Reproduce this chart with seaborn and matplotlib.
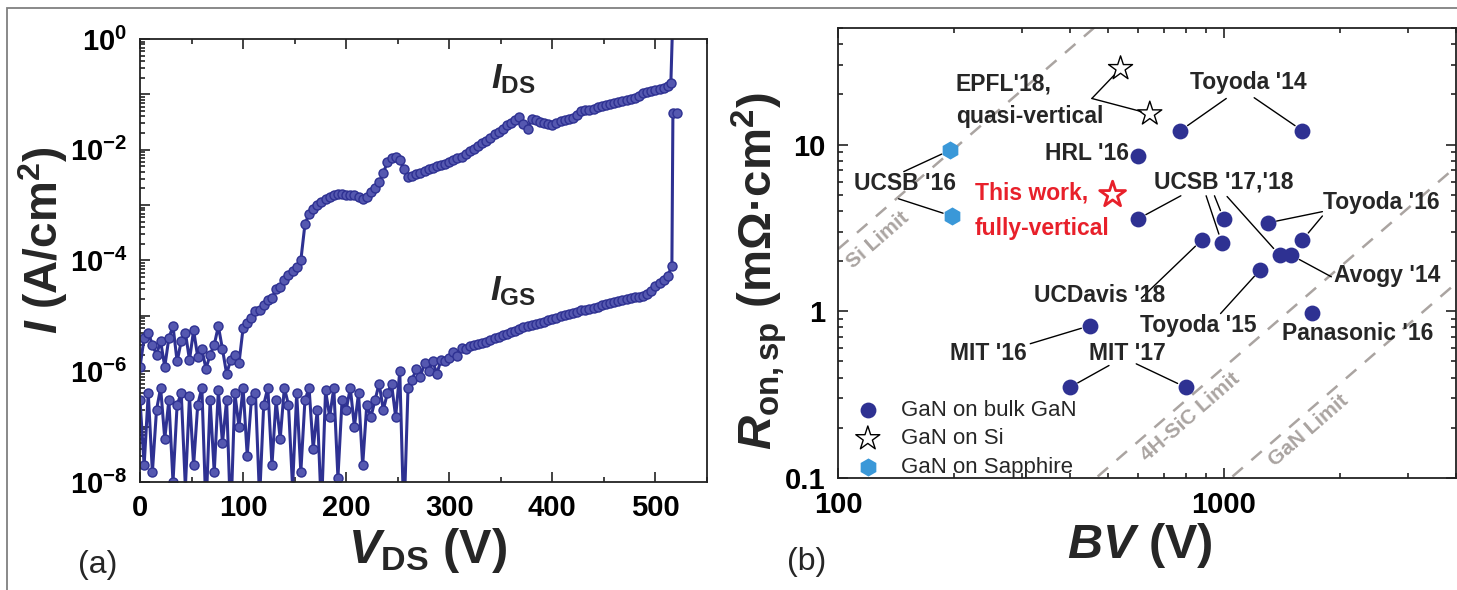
import numpy as np
import pandas as pd
import seaborn as sns
import matplotlib.pyplot as plt
from matplotlib.patches import Rectangle
from matplotlib.ticker import FixedLocator, LogLocator, FuncFormatter, NullFormatter, MultipleLocator

sns.set_theme(style="ticks")
plt.rcParams['font.family'] = ['Liberation Sans', 'DejaVu Sans']
plt.rcParams['mathtext.fontset'] = 'custom'
plt.rcParams['mathtext.rm'] = 'Liberation Sans:bold'
plt.rcParams['mathtext.it'] = 'Liberation Sans:italic:bold'
plt.rcParams['mathtext.bf'] = 'Liberation Sans:bold'

# ---- (a) off-state leakage, sweep in 4 V steps 0..512 V ----
v_sweep = np.arange(0, 513, 4)
i_ds = [1.2e-6, 4.0e-6, 5.0e-6, 3.0e-6, 2.0e-6, 3.5e-6, 1.2e-6, 4.0e-6, 6.5e-6, 1.5e-6,
        3.5e-6, 5.0e-6, 1.6e-6, 5.5e-6, 1.8e-6, 2.5e-6, 1.1e-6, 2.0e-6, 3.0e-6, 6.5e-6,
        2.5e-6, 9.0e-7, 1.6e-6, 2.0e-6, 1.4e-6, 6.0e-6, 7.5e-6, 9.0e-6, 1.2e-5, 1.3e-5,
        1.6e-5, 1.9e-5, 2.1e-5, 3.0e-5, 3.3e-5, 4.5e-5, 5.5e-5, 6.5e-5, 7.5e-5, 1.0e-4,
        4.5e-4, 7.0e-4, 8.5e-4, 1.0e-3, 1.15e-3, 1.3e-3, 1.4e-3, 1.5e-3, 1.6e-3, 1.6e-3,
        1.55e-3, 1.5e-3, 1.5e-3, 1.4e-3, 1.3e-3, 1.4e-3, 1.7e-3, 2.0e-3, 2.6e-3, 3.8e-3,
        6.0e-3, 7.0e-3, 7.5e-3, 6.5e-3, 4.5e-3, 3.2e-3, 3.4e-3, 3.6e-3, 3.8e-3, 4.2e-3,
        4.5e-3, 4.6e-3, 5.0e-3, 5.3e-3, 5.6e-3, 6.0e-3, 6.5e-3, 7.2e-3, 7.5e-3, 8.5e-3,
        9.5e-3, 1.05e-2, 1.15e-2, 1.3e-2, 1.45e-2, 1.6e-2, 1.9e-2, 2.1e-2, 2.4e-2, 2.8e-2,
        3.1e-2, 3.5e-2, 3.9e-2, 2.9e-2, 2.4e-2, 3.6e-2, 3.4e-2, 3.2e-2, 3.0e-2, 2.9e-2,
        2.8e-2, 3.0e-2, 3.3e-2, 3.5e-2, 3.6e-2, 3.8e-2, 4.3e-2, 5.0e-2, 5.2e-2, 5.3e-2,
        5.5e-2, 5.8e-2, 6.2e-2, 6.5e-2, 6.8e-2, 7.0e-2, 7.3e-2, 7.6e-2, 7.9e-2, 8.2e-2,
        8.5e-2, 9.5e-2, 1.05e-1, 1.1e-1, 1.15e-1, 1.2e-1, 1.25e-1, 1.3e-1, 1.4e-1]
i_gs = [3e-7, 2e-8, 4e-7, 1.5e-8, 2e-7, 5e-7, 6e-8, 3e-7, 1e-8, 2.5e-7,
        4e-7, 8e-9, 3.5e-7, 2e-8, 2.5e-7, 5e-7, 3e-9, 3e-7, 1.5e-8, 4.5e-7,
        5e-8, 3e-7, 2e-9, 4e-7, 1e-7, 5e-7, 3e-8, 3e-7, 4e-7, 5e-9,
        2.5e-7, 5e-7, 2e-8, 3e-7, 6e-8, 5e-7, 2.5e-7, 8e-9, 4e-7, 1.5e-8,
        3e-7, 5e-7, 4e-8, 2e-7, 3e-9, 4.5e-7, 1.5e-7, 5e-7, 1.2e-8, 3e-7,
        2e-7, 5e-7, 1e-7, 4e-7, 2e-8, 2.5e-7, 1.5e-7, 3e-7, 6e-7, 2e-7,
        4e-7, 6e-7, 1.5e-7, 1e-6, 2e-9, 5e-7, 7e-7, 1.1e-6, 8e-7, 1.4e-6,
        1.0e-6, 1.5e-6, 9e-7, 1.6e-6, 1.5e-6, 1.7e-6, 2.2e-6, 1.9e-6, 2.6e-6, 2.5e-6,
        2.9e-6, 3.0e-6, 3.1e-6, 3.3e-6, 3.4e-6, 3.6e-6, 3.9e-6, 4.2e-6, 4.5e-6, 4.8e-6,
        5.1e-6, 5.4e-6, 5.8e-6, 6.2e-6, 6.5e-6, 6.8e-6, 7.0e-6, 7.4e-6, 7.8e-6, 8.3e-6,
        8.8e-6, 9.3e-6, 9.8e-6, 1.03e-5, 1.08e-5, 1.13e-5, 1.18e-5, 1.25e-5, 1.3e-5, 1.35e-5,
        1.4e-5, 1.45e-5, 1.58e-5, 1.62e-5, 1.7e-5, 1.78e-5, 1.85e-5, 1.92e-5, 2.0e-5, 2.07e-5,
        2.15e-5, 2.22e-5, 2.3e-5, 2.5e-5, 2.8e-5, 3.4e-5, 3.9e-5, 4.5e-5, 5.3e-5]
# breakdown tails
v_ds_tail = [515, 517]
i_ds_tail = [0.16, 3.0]
v_gs_tail = [516, 517, 521]
i_gs_tail = [8e-5, 0.047, 0.047]

# ---- (b) benchmark Ron,sp vs BV ----
bv_bulk = [771, 1600, 599, 599, 1000, 878, 988, 1396, 1497, 1300, 1600, 1245, 1690, 450, 399, 797]
ron_bulk = [12.1, 12.1, 8.5, 3.58, 3.58, 2.68, 2.58, 2.17, 2.17, 3.39, 2.68, 1.78, 0.98, 0.82, 0.35, 0.35]
bv_si = [540, 643]
ron_si = [28.6, 15.3]
bv_sap = [195, 197]
ron_sap = [9.24, 3.73]
bv_this = [515]
ron_this = [5.0]

# material limits Ron = k * BV^2
limit_names = ["Si", "4H-SiC", "GaN"]
limit_k = [2.36e-4, 4.6e-7, 9.2e-8]
bv_range = [100, 4000]

navy = "#2e3192"
grey = "#aaa4a1"

fig = plt.figure(figsize=(14.57, 5.9), dpi=100)
ax1 = fig.add_axes([0.0961, 0.1831, 0.3891, 0.7508])
ax2 = fig.add_axes([0.5752, 0.1898, 0.4241, 0.7627])

# ---------------- panel (a) ----------------
ax1.set_yscale("log")
dfa = pd.DataFrame({"V": np.concatenate([v_sweep, v_ds_tail]), "I": i_ds + i_ds_tail})
dfb = pd.DataFrame({"V": np.concatenate([v_sweep, v_gs_tail]), "I": i_gs + i_gs_tail})
for d in (dfb, dfa):
    sns.lineplot(data=d, x="V", y="I", ax=ax1, color=navy, linewidth=2.2,
                 marker="o", markersize=6.5, markerfacecolor="#5558b0",
                 markeredgecolor=navy, markeredgewidth=1.0,
                 sort=False, estimator=None)
ax1.set_xlim(0, 550)
ax1.set_ylim(1e-8, 1)
ax1.xaxis.set_major_locator(MultipleLocator(100))
ax1.xaxis.set_minor_locator(MultipleLocator(50))
ax1.yaxis.set_major_locator(FixedLocator([10.0 ** e for e in range(-8, 1)]))
ax1.yaxis.set_minor_locator(LogLocator(base=10, subs=np.arange(2, 10), numticks=20))
ax1.yaxis.set_minor_formatter(NullFormatter())


def even_decade(v, pos):
    e = int(round(np.log10(v)))
    return r"$10^{%d}$" % e if e % 2 == 0 else ""


ax1.yaxis.set_major_formatter(FuncFormatter(even_decade))
ax1.tick_params(which="both", direction="in", top=True, right=False, width=1.2,
                labelsize=21, colors="#222222", labelcolor="black")
ax1.tick_params(which="major", length=7, pad=9)
ax1.tick_params(which="minor", length=3.5)
for lab in ax1.get_xticklabels():
    lab.set_fontweight("bold")
ax1.set_xlabel(r"$V_{\mathrm{DS}}$ (V)", fontsize=35, fontweight="bold")
ax1.set_ylabel(r"$I$ (A/cm$^2$)", fontsize=33, fontweight="bold")
ax1.xaxis.set_label_coords(0.508, -0.10)
ax1.yaxis.set_label_coords(-0.124, 0.545)
ax1.text(362, 0.19, r"$I_{\mathrm{DS}}$", fontsize=25, ha="center", va="center")
ax1.text(362, 2.8e-5, r"$I_{\mathrm{GS}}$", fontsize=25, ha="center", va="center")

# ---------------- panel (b) ----------------
ax2.set_xscale("log")
ax2.set_yscale("log")
for name, k in zip(limit_names, limit_k):
    ax2.plot(bv_range, [k * b ** 2 for b in bv_range], color=grey, lw=1.8,
             dashes=(5.5, 4.5), zorder=1)

sns.scatterplot(x=bv_bulk, y=ron_bulk, ax=ax2, marker="o", s=130, color=navy,
                edgecolor=navy, linewidth=0, label="GaN on bulk GaN", zorder=3)
sns.scatterplot(x=bv_si, y=ron_si, ax=ax2, marker="*", s=330, facecolor="none",
                edgecolor="black", linewidth=1.0, label="GaN on Si", zorder=3)
sns.scatterplot(x=bv_sap, y=ron_sap, ax=ax2, marker="h", s=170, color="#3a98d8",
                edgecolor="#3a98d8", linewidth=0, label="GaN on Sapphire", zorder=3)
sns.scatterplot(x=bv_this, y=ron_this, ax=ax2, marker="*", s=380, facecolor="none",
                edgecolor="#e8202a", linewidth=2.0, label="_nolegend_", zorder=3)

ax2.set_xlim(100, 4000)
ax2.set_ylim(0.1, 50)
ax2.xaxis.set_major_locator(FixedLocator([100, 1000]))
ax2.xaxis.set_major_formatter(FuncFormatter(lambda v, p: "%d" % v))
ax2.xaxis.set_minor_locator(LogLocator(base=10, subs=np.arange(2, 10), numticks=20))
ax2.xaxis.set_minor_formatter(NullFormatter())
ax2.yaxis.set_major_locator(FixedLocator([0.1, 1, 10]))
ax2.yaxis.set_major_formatter(FuncFormatter(lambda v, p: "%g" % v))
ax2.yaxis.set_minor_locator(LogLocator(base=10, subs=np.arange(2, 10), numticks=20))
ax2.yaxis.set_minor_formatter(NullFormatter())
ax2.tick_params(which="both", direction="in", top=True, right=True, width=1.2,
                labelsize=21, colors="#222222", labelcolor="black")
ax2.tick_params(which="major", length=7, pad=9)
ax2.tick_params(which="minor", length=3.5)
for lab in ax2.get_xticklabels() + ax2.get_yticklabels():
    lab.set_fontweight("bold")
ax2.set_xlabel(r"$BV$ (V)", fontsize=35, fontweight="bold")
ax2.set_ylabel(r"$R_{\mathrm{on,sp}}$ (mΩ·cm$^2$)", fontsize=34, fontweight="bold")
ax2.xaxis.set_label_coords(0.489, -0.095)
ax2.yaxis.set_label_coords(-0.08, 0.46)

for ax in (ax1, ax2):
    for sp in ax.spines.values():
        sp.set_linewidth(1.3)
        sp.set_color("#222222")

# annotation labels (text, x, y, ha)
labels_b = [("EPFL'18,", 202, 23.0, "left"),
            ("quasi-vertical", 202, 14.75, "left"),
            ("Toyoda '14", 1161, 23.6, "center"),
            ("HRL '16", 567, 8.83, "right"),
            ("UCSB '16", 149, 5.82, "center"),
            ("UCSB '17,'18", 1000, 5.98, "center"),
            ("Toyoda '16", 2564, 4.48, "center"),
            ("Avogy '14", 2652, 1.648, "center"),
            ("UCDavis '18", 476, 1.248, "center"),
            ("Toyoda '15", 861, 0.824, "center"),
            ("Panasonic '16", 2223, 0.737, "center"),
            ("MIT '16", 245, 0.558, "center"),
            ("MIT '17", 561, 0.558, "center")]
for txt, x, y, ha in labels_b:
    ax2.text(x, y, txt, fontsize=16.5, fontweight="bold", ha=ha, va="center", zorder=4)

ax2.text(226.5, 5.14, "This work,", fontsize=16.5, fontweight="bold", color="#e8202a",
         ha="left", va="center")
ax2.text(226.5, 3.12, "fully-vertical", fontsize=16.5, fontweight="bold", color="#e8202a",
         ha="left", va="center")

# leader lines: start point near label -> data point
groups = {"bulk": (bv_bulk, ron_bulk), "si": (bv_si, ron_si), "sap": (bv_sap, ron_sap)}
leaders = [(455, 18.9, "si", 0), (455, 18.9, "si", 1),
           (1015, 18.9, "bulk", 0), (1199, 19.1, "bulk", 1),
           (148, 6.88, "sap", 0), (143.5, 4.73, "sap", 1),
           (774, 4.93, "bulk", 3), (900, 4.93, "bulk", 6), (946, 4.93, "bulk", 4),
           (1020, 4.88, "bulk", 7),
           (1802, 3.96, "bulk", 9), (1802, 3.73, "bulk", 10),
           (1901, 1.61, "bulk", 8),
           (611, 1.198, "bulk", 5),
           (981, 0.969, "bulk", 11),
           (315, 0.639, "bulk", 13),
           (504, 0.473, "bulk", 14), (593, 0.484, "bulk", 15)]
for x0, y0, g, i in leaders:
    gx, gy = groups[g]
    ax2.annotate("", xy=(gx[i], gy[i]), xytext=(x0, y0),
                 arrowprops=dict(arrowstyle="-", color="black", lw=1.0,
                                 shrinkA=0, shrinkB=6.5), zorder=2)

# limit labels
limit_text = [("Si Limit", 127, 2.68), ("4H-SiC Limit", 818, 0.233), ("GaN Limit", 1660, 0.192)]
for txt, x, y in limit_text:
    ax2.text(x, y, txt, fontsize=15, fontweight="bold", color=grey,
             rotation=41, ha="center", va="center", rotation_mode="anchor")

leg = ax2.legend(loc="lower left", bbox_to_anchor=(-0.013, -0.035), frameon=False,
                 fontsize=16, handletextpad=0.5, labelspacing=0.35, borderaxespad=0.3,
                 scatterpoints=1)

fig.text(0.0673, 0.0424, "(a)", fontsize=23, ha="center", va="center")
fig.text(0.5539, 0.0475, "(b)", fontsize=23, ha="center", va="center")
fig.add_artist(Rectangle((7 / 1457, -0.2), 2, 1.2 - 8 / 590, transform=fig.transFigure,
                         fill=False, edgecolor="#808080", lw=1.3))

fig.savefig("out.png", dpi=100)
